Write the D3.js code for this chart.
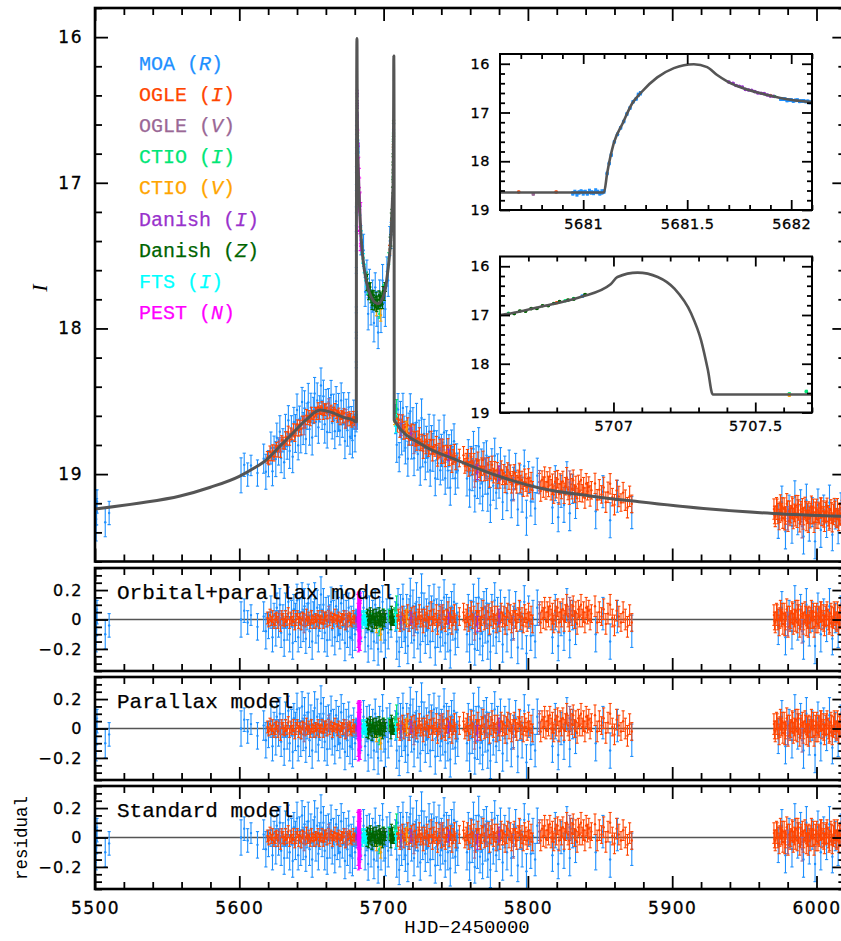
<!DOCTYPE html>
<html><head><meta charset="utf-8">
<script src="https://cdn.jsdelivr.net/npm/d3@7"></script>
<style>body{margin:0;background:#fff}svg{display:block}</style>
</head><body>
<svg id="c" width="841" height="941"></svg>
<script>
// ---------------- DATA ----------------
// best-fit model light curve (HJD-2450000, I mag)
const modelT = [5500,5530,5559,5580,5600,5610,5619,5628,5637,5646,5656,5665,5672,5679,5680.6,
 5681.10,5681.115,5681.147,5681.19,5681.236,5681.276,5681.356,5681.436,5681.532,5681.596,5681.644,
 5681.692,5681.788,5681.885,5681.997,5682.10,5682.5,5683,5684,5685,5687,5690,5693,5696,5699,5701,
 5703,5704.5,5705.5,5706.2,5706.601,5706.743,5706.884,5706.99,5707.014,5707.085,5707.156,5707.215,
 5707.274,5707.309,5707.333,5707.35,5707.7,5708,5727,5750,5780,5808,5843,5877,5926,5970,6020];
const modelMag = [19.24,19.20,19.15,19.09,19.015,18.96,18.90,18.81,18.72,18.63,18.56,18.58,18.61,18.63,18.64,
 18.64,18.25,17.63,17.22,16.81,16.60,16.28,16.09,16.01,16.07,16.23,
 16.36,16.53,16.64,16.74,16.79,16.93,17.08,17.30,17.45,17.62,17.75,17.81,17.83,17.80,17.74,
 17.60,17.45,17.28,17.10,17.00,16.83,16.63,16.37,16.22,16.13,16.22,16.46,
 16.97,17.52,18.13,18.63,18.63,18.64,18.80,18.90,19.015,19.095,19.15,19.19,19.24,19.27,19.29];

// data points: [HJD-2450000, residual (model - data, mag), error (mag)]
const moaData = [
[5500.2,-0.05,0.12],[5500.5,0.03,0.10],[5500.8,-0.11,0.11],[5501.1,-0.02,0.09],[5501.4,0.05,0.08],[5507.1,-0.10,0.10],[5509.8,-0.04,0.08],
[5601.2,0.00,0.12],[5603.4,0.06,0.08],[5605.8,-0.02,0.08],[5608.1,0.03,0.07],[5612.6,-0.05,0.09],[5616.9,0.02,0.10],[5618.4,-0.08,0.12],[5620.2,-0.04,0.09],[5621.9,0.05,0.11],[5623.0,-0.12,0.10],[5624.1,0.03,0.08],[5625.3,-0.06,0.12],[5626.0,0.08,0.10],[5627.2,-0.03,0.09],[5628.1,0.10,0.11],[5629.0,-0.09,0.10],[5630.2,0.02,0.08],[5631.1,-0.14,0.11],[5632.0,0.06,0.12],[5633.2,-0.05,0.09],[5634.0,0.12,0.10],[5634.9,-0.10,0.12],[5636.1,0.04,0.09],[5637.0,-0.16,0.11],[5637.8,0.07,0.10],[5638.9,-0.02,0.13],[5640.0,0.13,0.11],[5640.8,-0.12,0.10],[5641.7,0.05,0.09],[5642.6,-0.07,0.12],[5643.5,0.15,0.10],[5644.3,-0.04,0.11],[5645.2,0.09,0.12],[5646.1,-0.13,0.10],[5647.0,0.02,0.09],[5647.8,0.11,0.13],[5648.7,-0.08,0.11],[5649.6,0.06,0.10],[5650.5,-0.15,0.12],[5651.3,0.03,0.09],[5652.2,0.14,0.11],[5653.1,-0.06,0.10],[5654.0,0.08,0.12],[5654.8,-0.11,0.11],[5655.7,0.01,0.09],[5656.6,0.17,0.12],[5657.4,-0.03,0.10],[5658.3,0.10,0.11],[5659.2,-0.09,0.13],[5660.1,0.05,0.10],[5660.9,-0.14,0.11],[5661.8,0.07,0.09],[5662.7,-0.02,0.12],[5663.6,0.12,0.10],[5664.4,-0.07,0.11],[5665.3,0.04,0.09],[5666.2,-0.12,0.12],[5667.1,0.09,0.10],[5667.9,-0.04,0.11],[5668.8,0.02,0.13],[5669.7,-0.10,0.10],[5670.6,0.11,0.12],[5671.4,-0.05,0.09],[5672.3,0.06,0.11],[5673.2,-0.16,0.12],[5674.1,0.03,0.10],[5674.9,-0.08,0.11],[5675.8,0.08,0.10],[5676.7,-0.12,0.12],[5677.6,-0.02,0.11],[5678.4,-0.14,0.12],[5679.3,0.04,0.10],[5680.2,-0.10,0.11],
[5680.95,-0.02,0.03],[5680.96,0.01,0.03],[5680.97,-0.03,0.04],[5680.98,0.00,0.03],[5680.99,0.02,0.03],[5681.00,-0.01,0.04],[5681.01,0.01,0.03],[5681.02,-0.02,0.03],[5681.03,0.02,0.04],[5681.04,0.00,0.03],[5681.05,-0.01,0.03],[5681.06,0.03,0.04],[5681.07,0.01,0.03],[5681.08,-0.02,0.03],[5681.09,0.01,0.04],[5681.10,0.02,0.03],
[5681.115,0.00,0.02],[5681.125,0.01,0.02],[5681.135,-0.01,0.02],[5681.15,0.00,0.02],[5681.165,0.01,0.02],[5681.18,0.00,0.02],[5681.195,-0.01,0.02],[5681.21,0.01,0.02],[5681.225,0.00,0.02],[5681.24,0.01,0.02],[5681.255,-0.01,0.02],[5681.265,0.02,0.03],[5681.275,0.00,0.03],
[5681.95,-0.03,0.02],[5681.96,-0.02,0.02],[5681.97,-0.01,0.02],[5681.98,-0.03,0.02],[5681.99,-0.01,0.02],[5682.00,0.00,0.02],[5682.01,-0.02,0.02],[5682.02,0.00,0.02],[5682.03,0.01,0.02],[5682.04,-0.01,0.02],[5682.05,0.00,0.02],[5682.06,0.01,0.02],[5682.07,0.00,0.02],[5682.08,0.01,0.02],[5682.09,-0.01,0.02],[5682.10,0.01,0.02],
[5684.3,-0.05,0.10],[5686.1,0.08,0.11],[5687.2,-0.12,0.10],[5688.4,0.03,0.12],[5689.3,-0.18,0.11],[5690.2,0.06,0.10],[5691.3,-0.08,0.12],[5692.4,0.02,0.11],[5693.3,-0.15,0.13],[5694.2,0.10,0.10],[5695.3,-0.04,0.12],[5696.2,-0.20,0.11],[5697.3,0.05,0.10],[5698.2,-0.10,0.12],[5699.3,0.12,0.11],[5700.2,-0.06,0.10],[5701.2,-0.14,0.12],[5702.3,0.04,0.10],[5703.2,-0.09,0.11],[5704.3,0.07,0.10],[5705.2,-0.03,0.09],[5706.89,0.00,0.02],
[5708.3,0.02,0.10],[5709.1,-0.15,0.12],[5710.0,0.10,0.11],[5710.8,-0.22,0.10],[5711.7,0.05,0.12],[5712.5,-0.08,0.11],[5713.4,0.14,0.10],[5714.2,-0.03,0.12],[5715.1,-0.12,0.11],[5716.0,0.07,0.10],[5716.8,-0.18,0.12],[5717.7,0.03,0.11],[5718.5,0.16,0.12],[5719.4,-0.06,0.10],[5720.3,0.09,0.11],[5721.1,-0.14,0.12],[5722.0,0.01,0.10],[5722.8,0.12,0.13],[5723.7,-0.09,0.11],[5724.6,0.05,0.10],[5725.4,-0.17,0.12],[5726.3,0.18,0.13],[5727.1,-0.04,0.11],[5728.0,0.08,0.10],[5728.9,-0.11,0.12],[5729.7,0.03,0.11],[5730.6,-0.07,0.10],[5731.5,0.11,0.12],[5732.3,-0.15,0.11],[5733.2,0.06,0.10],[5734.1,-0.02,0.13],[5734.9,0.13,0.11],[5735.8,-0.19,0.12],[5736.7,0.04,0.10],[5737.5,-0.08,0.11],[5738.4,0.10,0.12],[5739.3,-0.12,0.10],[5740.1,0.02,0.11],[5741.0,-0.05,0.13],[5741.9,0.15,0.12],[5742.7,-0.16,0.11],[5743.6,0.07,0.10],[5744.5,-0.10,0.12],[5745.3,0.04,0.11],[5746.2,-0.21,0.12],[5747.1,0.09,0.10],[5748.0,-0.03,0.11],[5748.8,0.12,0.12],[5749.7,-0.13,0.11],[5750.6,0.01,0.10],[5751.4,-0.07,0.12],
[5757.8,-0.10,0.12],[5758.7,0.06,0.11],[5759.6,-0.17,0.12],[5760.5,0.03,0.10],[5761.4,-0.06,0.11],[5762.3,0.12,0.12],[5763.2,-0.20,0.11],[5764.1,0.05,0.10],[5765.0,-0.09,0.12],[5765.9,0.15,0.13],[5766.8,-0.13,0.11],[5767.7,0.02,0.12],[5768.6,-0.18,0.10],[5769.5,0.08,0.11],[5770.4,-0.04,0.12],[5771.3,0.11,0.10],[5772.2,-0.15,0.12],[5773.1,0.00,0.11],[5774.0,-0.22,0.12],[5775.0,0.06,0.11],[5776.0,-0.08,0.10],[5777.0,0.13,0.12],[5778.0,-0.12,0.11],[5779.0,0.03,0.12],[5780.0,-0.05,0.10],[5781.0,0.09,0.11],[5782.5,-0.17,0.12],[5784.0,0.04,0.11],[5785.5,-0.10,0.12],[5787.0,0.10,0.10],[5788.5,-0.14,0.12],[5790.0,-0.02,0.11],[5791.5,0.07,0.12],[5793.0,-0.19,0.11],[5794.5,0.02,0.10],[5796.0,-0.08,0.12],[5797.5,0.12,0.11],[5799.0,-0.23,0.12],[5800.5,0.05,0.11],[5802.0,-0.11,0.10],[5803.5,0.01,0.12],[5805.0,-0.15,0.11],[5806.5,0.08,0.12],
[5817.0,-0.12,0.11],[5819.0,0.05,0.12],[5821.0,-0.18,0.10],[5823.0,0.00,0.11],[5825.0,-0.09,0.12],[5827.0,0.10,0.11],[5829.0,-0.14,0.12],[5831.0,0.03,0.10],[5833.0,-0.06,0.11],[5847.0,-0.10,0.12],[5852.0,0.04,0.11],[5857.0,-0.15,0.12],[5862.0,0.02,0.11],[5872.0,-0.08,0.11],
[5973.5,-0.05,0.12],[5976.0,0.08,0.11],[5978.5,-0.12,0.12],[5981.0,0.03,0.10],[5983.0,-0.08,0.12],[5985.0,0.12,0.11],[5987.0,-0.02,0.12],[5989.0,0.06,0.11],[5991.0,-0.15,0.12],[5993.0,0.10,0.11],[5995.0,-0.06,0.12],[5997.0,0.02,0.10],[5999.0,-0.18,0.12],[6001.0,0.07,0.11],[6003.0,-0.10,0.12],[6005.0,0.04,0.10],[6007.0,-0.04,0.11],[6009.0,0.09,0.12],[6011.0,-0.13,0.11],[6013.0,0.01,0.10],[6015.0,-0.07,0.12],[6017.0,0.05,0.11],[6019.0,-0.11,0.12]
];
const ogleIData = [
[5619.5,0.01,0.04],[5620.4,-0.02,0.03],[5621.3,0.03,0.04],[5622.2,-0.01,0.03],[5623.1,0.02,0.04],[5624.0,-0.03,0.03],[5624.9,0.00,0.04],[5625.8,0.02,0.03],[5626.7,-0.02,0.04],[5627.6,0.01,0.03],[5628.5,-0.04,0.04],[5629.4,0.03,0.03],[5630.3,0.00,0.04],[5631.2,-0.02,0.03],[5632.1,0.02,0.04],[5633.0,-0.01,0.03],[5633.9,0.04,0.04],[5634.8,-0.03,0.03],[5635.7,0.01,0.04],[5636.6,-0.01,0.03],[5637.5,0.02,0.04],[5638.4,-0.04,0.03],[5639.3,0.00,0.04],[5640.2,0.03,0.03],[5641.1,-0.02,0.04],[5642.0,0.01,0.03],[5642.9,-0.03,0.04],[5643.8,0.02,0.03],[5644.7,0.00,0.04],[5645.6,-0.02,0.03],[5646.5,0.03,0.04],[5647.4,-0.01,0.03],[5648.3,0.01,0.04],[5649.2,-0.03,0.03],[5650.1,0.02,0.04],[5651.0,0.00,0.03],[5651.9,-0.02,0.04],[5652.8,0.01,0.03],[5653.7,-0.01,0.04],[5654.6,0.03,0.03],[5655.5,-0.02,0.04],[5656.4,0.00,0.03],[5657.3,0.02,0.04],[5658.2,-0.03,0.03],[5659.1,0.01,0.04],[5660.0,0.02,0.03],[5660.9,-0.01,0.04],[5661.8,0.03,0.03],[5662.7,0.00,0.04],[5663.6,0.02,0.03],[5664.5,-0.02,0.04],[5665.4,0.01,0.03],[5666.3,0.03,0.04],[5667.2,0.00,0.03],[5668.1,-0.01,0.04],[5669.0,0.02,0.03],[5669.9,-0.02,0.04],[5670.8,0.01,0.03],[5671.7,0.00,0.04],[5672.6,0.03,0.03],[5673.5,-0.03,0.04],[5674.4,0.01,0.03],[5675.3,-0.01,0.04],[5676.2,0.02,0.03],[5677.1,0.00,0.04],[5678.0,-0.02,0.03],[5678.9,0.02,0.04],[5679.8,0.00,0.03],[5680.69,0.01,0.01],[5680.87,0.01,0.01],
[5704.2,0.02,0.03],[5705.5,-0.01,0.03],[5706.80,0.00,0.01],[5707.70,0.00,0.01],
[5708.6,0.02,0.04],[5709.5,-0.01,0.05],[5710.4,0.03,0.04],[5711.3,-0.03,0.05],[5712.2,0.01,0.04],[5713.1,0.04,0.05],[5714.0,-0.02,0.05],[5714.9,0.02,0.04],[5715.8,0.00,0.05],[5716.7,0.05,0.05],[5717.6,-0.04,0.04],[5718.5,0.01,0.05],[5719.4,0.03,0.05],[5720.3,-0.02,0.04],[5721.2,0.04,0.05],[5722.1,0.00,0.05],[5723.0,-0.03,0.04],[5723.9,0.02,0.05],[5724.8,0.05,0.05],[5725.7,-0.01,0.04],[5726.6,0.02,0.05],[5727.5,-0.04,0.05],[5728.4,0.03,0.04],[5729.3,0.00,0.05],[5730.2,0.04,0.05],[5731.1,-0.02,0.04],[5732.0,0.01,0.05],[5732.9,0.06,0.06],[5733.8,-0.03,0.05],[5734.7,0.02,0.05],[5735.6,0.00,0.04],[5736.5,0.04,0.06],[5737.4,-0.05,0.05],[5738.3,0.01,0.05],[5739.2,0.03,0.06],[5740.1,-0.02,0.05],[5741.0,0.05,0.05],[5741.9,0.00,0.06],[5742.8,-0.03,0.05],[5743.7,0.02,0.05],[5744.6,0.06,0.06],[5745.5,-0.01,0.05],[5746.4,0.03,0.05],[5747.3,-0.04,0.06],[5748.2,0.01,0.05],[5749.1,0.04,0.06],[5750.0,-0.02,0.05],[5752.5,0.02,0.06],[5755.4,0.05,0.06],[5756.3,-0.02,0.05],[5757.2,0.01,0.06],[5758.1,0.04,0.06],[5759.0,-0.03,0.05],[5759.9,0.02,0.06],[5760.8,0.06,0.06],[5761.7,-0.01,0.05],[5762.6,0.03,0.06],[5763.5,-0.04,0.06],[5764.4,0.01,0.05],[5765.3,0.05,0.06],[5766.2,0.00,0.06],[5767.1,-0.03,0.05],[5768.0,0.02,0.06],[5768.9,0.07,0.06],[5769.8,-0.02,0.05],[5770.7,0.03,0.06],[5771.6,0.00,0.06],[5772.5,0.05,0.05],[5773.4,-0.04,0.06],[5774.3,0.02,0.06],[5775.2,0.06,0.06],[5776.1,-0.01,0.05],[5777.0,0.03,0.06],[5777.9,-0.03,0.06],[5778.8,0.04,0.05],[5779.7,0.01,0.06],[5780.6,-0.02,0.06],[5781.5,0.05,0.06],[5782.4,0.00,0.05],[5783.3,0.03,0.06],[5784.2,-0.04,0.06],[5785.1,0.02,0.06],[5786.0,0.06,0.05],[5786.9,-0.01,0.06],[5787.8,0.04,0.06],[5788.7,-0.03,0.06],[5789.6,0.01,0.05],[5790.5,0.05,0.06],[5791.4,0.00,0.06],[5792.3,-0.02,0.06],[5793.2,0.03,0.05],[5794.1,0.07,0.06],[5795.0,-0.01,0.06],[5795.9,0.02,0.06],[5796.8,-0.04,0.05],[5797.7,0.04,0.06],[5798.6,0.01,0.06],[5799.5,-0.02,0.06],[5800.4,0.05,0.06],[5801.3,0.00,0.05],[5802.2,0.03,0.06],[5803.1,-0.03,0.06],
[5808.0,0.04,0.06],[5808.9,-0.02,0.07],[5809.8,0.06,0.06],[5810.7,0.01,0.07],[5811.6,0.08,0.07],[5812.5,-0.01,0.06],[5813.4,0.05,0.07],[5814.3,0.02,0.07],[5815.2,0.09,0.06],[5816.1,0.00,0.07],[5817.0,0.04,0.07],[5817.9,-0.03,0.06],[5818.8,0.06,0.07],[5819.7,0.02,0.07],[5820.6,0.08,0.06],[5821.5,-0.02,0.07],[5822.4,0.05,0.07],[5823.3,0.01,0.06],[5824.2,0.07,0.07],[5825.1,-0.01,0.07],[5826.0,0.04,0.06],[5826.9,0.10,0.07],[5827.8,0.02,0.07],[5828.7,-0.02,0.06],[5829.6,0.06,0.07],[5830.5,0.03,0.07],[5831.4,0.09,0.07],[5832.3,0.00,0.06],[5833.2,0.05,0.07],[5834.1,-0.03,0.07],[5835.0,0.07,0.06],[5835.9,0.02,0.07],[5836.8,0.10,0.07],[5837.7,0.01,0.06],[5838.6,0.05,0.07],[5839.5,-0.02,0.07],[5840.4,0.08,0.07],[5841.3,0.03,0.06],[5842.2,0.06,0.07],[5843.1,0.00,0.07],[5844.0,0.04,0.06],[5846.5,0.09,0.07],[5848.0,-0.02,0.07],[5849.5,0.05,0.07],[5851.0,0.02,0.06],[5852.5,0.07,0.07],[5854.0,-0.03,0.07],[5855.5,0.04,0.07],[5857.0,0.10,0.07],[5858.5,0.01,0.06],[5860.0,-0.04,0.07],[5861.5,0.06,0.07],[5863.0,0.02,0.07],[5864.5,-0.02,0.06],[5866.0,0.05,0.07],[5867.5,0.00,0.07],[5869.0,-0.05,0.07],[5870.5,0.03,0.07],[5872.0,-0.02,0.06],
[5970.5,0.03,0.07],[5971.4,-0.02,0.07],[5972.3,0.05,0.06],[5973.2,0.00,0.07],[5974.1,-0.04,0.07],[5975.0,0.06,0.07],[5975.8,0.01,0.06],[5976.7,-0.03,0.07],[5977.6,0.04,0.07],[5978.5,-0.01,0.06],[5979.4,0.07,0.07],[5980.3,-0.05,0.07],[5981.2,0.02,0.07],[5982.1,0.00,0.06],[5983.0,0.05,0.07],[5983.9,-0.03,0.07],[5984.8,0.01,0.06],[5985.7,0.06,0.07],[5986.6,-0.02,0.07],[5987.5,0.03,0.07],[5988.4,-0.06,0.06],[5989.3,0.02,0.07],[5990.2,0.04,0.07],[5991.1,-0.01,0.06],[5992.0,0.05,0.07],[5992.9,-0.04,0.07],[5993.8,0.01,0.07],[5994.7,0.03,0.06],[5995.6,-0.02,0.07],[5996.5,0.06,0.07],[5997.4,0.00,0.06],[5998.3,-0.05,0.07],[5999.2,0.02,0.07],[6000.1,0.04,0.07],[6001.0,-0.03,0.06],[6001.9,0.01,0.07],[6002.8,0.05,0.07],[6003.7,-0.01,0.06],[6004.6,0.03,0.07],[6005.5,-0.04,0.07],[6006.4,0.02,0.07],[6007.3,0.06,0.06],[6008.2,0.00,0.07],[6009.1,-0.02,0.07],[6010.0,0.04,0.07],[6010.9,-0.05,0.06],[6011.8,0.01,0.07],[6012.7,0.03,0.07],[6013.6,-0.01,0.06],[6014.5,0.05,0.07],[6015.4,-0.03,0.07],[6016.3,0.02,0.07],[6017.2,0.00,0.06],[6018.1,0.04,0.07],[6019.0,-0.02,0.07],
[5970.9,-0.01,0.06],[5972.7,0.03,0.07],[5974.6,0.01,0.07],[5976.2,0.05,0.06],[5978.0,-0.04,0.07],[5979.9,0.02,0.07],[5981.7,-0.02,0.06],[5983.5,0.04,0.07],[5985.3,-0.01,0.07],[5987.1,0.07,0.06],[5988.9,0.00,0.07],[5990.7,-0.03,0.07],[5992.5,0.03,0.06],[5994.3,-0.05,0.07],[5996.1,0.01,0.07],[5997.9,0.05,0.06],[5999.7,-0.02,0.07],[6001.5,0.02,0.07],[6003.3,0.06,0.06],[6005.1,-0.01,0.07],[6006.9,0.03,0.07],[6008.7,-0.04,0.06],[6010.5,0.02,0.07],[6012.3,0.05,0.07],[6014.1,-0.02,0.06],[6015.9,0.01,0.07],[6017.7,0.04,0.07],[6019.5,-0.03,0.06]
];
const ogleVData = [[5628,0.01,0.05],[5645,-0.03,0.06],[5662,0.04,0.05],[5674,0.00,0.06],[5680.76,-0.03,0.02],[5712,0.02,0.06],[5721,-0.04,0.07],[5740,0.03,0.07],[5763,-0.05,0.09],[5771,0.02,0.07],[5790,-0.06,0.08],[5808,0.04,0.08],[5829,0.07,0.08],[5980,-0.03,0.08],[5990,-0.08,0.08]];
const ctioIData = [[5681.92,0.00,0.01],[5686,0.02,0.03],[5689,-0.03,0.03],[5692,0.01,0.03],[5697,-0.08,0.03],[5700,0.04,0.03],[5703.5,0.03,0.04],[5705.5,0.00,0.03],[5706.63,0.00,0.01],[5706.83,0.00,0.01],[5706.86,0.00,0.01],[5707.62,0.01,0.02],[5707.68,0.06,0.02],[5709,0.10,0.06],[5712,-0.02,0.04]];
const ctioVData = [[5681.90,0.00,0.01],[5695,-0.05,0.04],[5698,-0.10,0.04],[5707.62,-0.01,0.02],[5716,0.02,0.05]];
const danishIData = [[5681.70,0.00,0.01],[5681.72,0.01,0.01],[5681.735,-0.01,0.01],[5681.75,0.00,0.01],[5681.765,0.01,0.01],[5681.78,-0.01,0.01],[5681.795,0.00,0.01],[5681.81,0.01,0.01],[5681.825,0.00,0.01],[5681.84,-0.01,0.01],[5681.855,0.00,0.01],[5681.87,0.01,0.01],[5681.885,0.00,0.01],[5681.90,-0.01,0.01],[5681.915,0.00,0.01],
 [5690,0.00,0.03],[5700,0.02,0.03],[5712,-0.02,0.04],[5719,0.01,0.04],[5745,0.01,0.04],[5765,-0.03,0.05],[5780,0.02,0.05]];
const danishZData = [[5688.0,0.02,0.03],[5688.4,-0.03,0.03],[5688.8,0.04,0.03],[5689.2,0.00,0.02],[5689.6,-0.04,0.03],[5690.0,0.03,0.03],[5690.4,-0.01,0.02],[5690.8,0.05,0.03],[5691.2,-0.02,0.03],[5691.6,0.01,0.02],[5692.0,-0.05,0.03],[5692.4,0.03,0.03],[5692.8,0.00,0.02],[5693.2,0.04,0.03],[5693.6,-0.03,0.03],[5694.0,0.01,0.02],[5694.4,-0.01,0.03],[5694.8,0.04,0.03],[5695.2,-0.04,0.02],[5695.6,0.02,0.03],[5696.0,0.00,0.03],[5696.4,-0.02,0.02],[5696.8,0.05,0.03],[5697.2,0.01,0.03],[5697.6,-0.03,0.02],[5698.0,0.03,0.03],[5698.4,-0.01,0.03],[5698.8,0.02,0.02],[5699.2,-0.04,0.03],[5699.6,0.04,0.03],[5700.0,0.00,0.02],[5700.4,-0.02,0.03],[5700.8,0.03,0.03],[5701.2,0.01,0.03],
 [5704.6,0.02,0.04],[5705.0,-0.03,0.04],[5705.4,0.05,0.04],[5705.8,-0.01,0.03],[5706.2,0.03,0.04],
 [5706.63,-0.02,0.01],[5706.65,-0.03,0.01],[5706.67,0.00,0.01],[5706.69,-0.03,0.01],[5706.71,0.00,0.01],[5706.73,-0.02,0.01],[5706.75,0.01,0.01],[5706.77,-0.02,0.01],[5706.79,0.00,0.01],[5706.81,0.01,0.01],[5706.84,0.00,0.01],[5706.86,-0.01,0.01],[5706.90,0.01,0.01]];
const ftsData = [[5683.6,0.02,0.03],[5684.1,-0.02,0.03],[5684.6,0.03,0.03],[5685.0,0.00,0.03],[5685.5,-0.03,0.03],[5686.0,0.02,0.03],[5686.5,-0.01,0.03],[5687.0,0.03,0.03],[5687.5,0.00,0.03],[5688.0,-0.02,0.03],[5708.2,0.01,0.04],[5708.6,-0.03,0.04]];
const pestData = [[5682.15,0.05,0.12],[5682.3,-0.04,0.15],[5682.45,0.08,0.10],[5682.6,-0.08,0.14],[5682.75,0.02,0.16],[5682.9,-0.03,0.12],[5683.05,0.06,0.13],[5683.2,-0.06,0.15],[5683.35,0.01,0.18],[5683.5,-0.02,0.14],[5683.65,0.04,0.12],[5683.8,-0.05,0.16],[5683.95,0.00,0.13],[5684.1,0.03,0.15]];

const datasets = [
  {label:"MOA", band:"R", color:"#1e90ff", data:moaData},
  {label:"OGLE", band:"I", color:"#ff4500", data:ogleIData},
  {label:"OGLE", band:"V", color:"#9a6896", data:ogleVData},
  {label:"CTIO", band:"I", color:"#00e676", data:ctioIData},
  {label:"CTIO", band:"V", color:"#ffa500", data:ctioVData},
  {label:"Danish", band:"I", color:"#9932cc", data:danishIData},
  {label:"Danish", band:"Z", color:"#006400", data:danishZData},
  {label:"FTS", band:"I", color:"#00ffff", data:ftsData},
  {label:"PEST", band:"N", color:"#ff00ff", data:pestData}
];
const residualPanels = ["Orbital+parallax model","Parallax model","Standard model"];

const xMajor = [5500,5600,5700,5800,5900,6000];
const xMinor = [5520,5540,5560,5580,5620,5640,5660,5680,5720,5740,5760,5780,5820,5840,5860,5880,5920,5940,5960,5980,6020];
const yMajor = [16,17,18,19];
const yMinor = [15.8,16.2,16.4,16.6,16.8,17.2,17.4,17.6,17.8,18.2,18.4,18.6,18.8,19.2,19.4,19.6];
const rMajor = [-0.2,0,0.2];
const rMinor = [-0.35,-0.3,-0.25,-0.15,-0.1,-0.05,0.05,0.1,0.15,0.25,0.3,0.35];
const in1Major = [5681,5681.5,5682];
const in1Minor = [5680.7,5680.8,5680.9,5681.1,5681.2,5681.3,5681.4,5681.6,5681.7,5681.8,5681.9,5682.1];
const in2Major = [5707,5707.5];
const in2Minor = [5706.7,5706.8,5706.9,5707.1,5707.2,5707.3,5707.4,5707.6,5707.7];
const inYMajor = [16,17,18,19];
const inYMinor = [16.2,16.4,16.6,16.8,17.2,17.4,17.6,17.8,18.2,18.4,18.6,18.8];

// ---------------- DRAWING ----------------
const svg = d3.select("#c");
const TICKFONT = "DejaVu Sans, sans-serif";
const MONO = "Liberation Mono, Courier New, monospace";
const LINE = "#555";

function modelAt(t){
  const i = d3.bisectRight(modelT, t);
  if (i <= 0) return modelMag[0];
  if (i >= modelT.length) return modelMag[modelMag.length-1];
  const t0 = modelT[i-1], t1 = modelT[i];
  return modelMag[i-1] + (modelMag[i]-modelMag[i-1])*(t-t0)/(t1-t0);
}
const modelPts = modelT.map((t,i)=>[t, modelMag[i]]);

const x = d3.scaleLinear().domain([5500,6020]).range([95, 95+520*1.443]);
const yMain = d3.scaleLinear().domain([15.8,19.6]).range([8,561.5]);

let clipId = 0;
function clip(x0,y0,w,h){
  const id = "clip"+(clipId++);
  svg.append("clipPath").attr("id",id).append("rect").attr("x",x0).attr("y",y0).attr("width",w).attr("height",h);
  return "url(#"+id+")";
}

function drawPoints(g, xs, ys, getY, capW, dotR, sw){
  datasets.forEach(ds=>{
    const dg = g.append("g").attr("stroke",ds.color).attr("fill",ds.color);
    const pts = ds.data.filter(d=>d[0]>=xs.domain()[0]-1 && d[0]<=xs.domain()[1]+1);
    pts.forEach(d=>{
      const px = xs(d[0]);
      const [yc, ylo, yhi] = getY(d);
      dg.append("line").attr("x1",px).attr("x2",px).attr("y1",ylo).attr("y2",yhi).attr("stroke-width",sw);
      if (capW>0){
        dg.append("line").attr("x1",px-capW).attr("x2",px+capW).attr("y1",ylo).attr("y2",ylo).attr("stroke-width",sw);
        dg.append("line").attr("x1",px-capW).attr("x2",px+capW).attr("y1",yhi).attr("y2",yhi).attr("stroke-width",sw);
      }
      dg.append("circle").attr("cx",px).attr("cy",yc).attr("r",dotR).attr("stroke","none");
    });
  });
}

function styleAxis(g, fs, ls){
  g.select(".domain").remove();
  g.selectAll(".tick line").attr("stroke","#000").attr("stroke-width",1.8);
  g.selectAll(".tick text").attr("font-family",TICKFONT).attr("font-size",fs).attr("fill","#000")
    .attr("stroke","#000").attr("stroke-width",0.3).style("letter-spacing",ls+"px");
}
// draw inward ticks on 4 sides via d3 axes
function frameAxes(xs, ys, x0, x1, y0, y1, o){
  const g = svg.append("g");
  const mk = (axis, tr, major, minor, labels, fs, pad) => {
    const a = g.append("g").attr("transform",tr).call(axis(major).tickSize(-o.maj).tickPadding(pad).tickFormat(labels));
    styleAxis(a, fs, o.ls);
    const b = g.append("g").attr("transform",tr).call(axis(minor).tickSize(-o.min).tickFormat(""));
    styleAxis(b, fs, o.ls);
    return a;
  };
  const fmtNone = ()=>"";
  mk(v=>d3.axisBottom(xs).tickValues(v), `translate(0,${y1})`, o.xMaj, o.xMin, o.xLabels?o.xFmt:fmtNone, o.xfs, o.xpad);
  mk(v=>d3.axisTop(xs).tickValues(v), `translate(0,${y0})`, o.xMaj, o.xMin, fmtNone, o.xfs, 3);
  mk(v=>d3.axisLeft(ys).tickValues(v), `translate(${x0},0)`, o.yMaj, o.yMin, o.yFmt, o.yfs, o.ypad);
  mk(v=>d3.axisRight(ys).tickValues(v), `translate(${x1},0)`, o.yMaj, o.yMin, fmtNone, o.yfs, 3);
  g.append("rect").attr("x",x0).attr("y",y0).attr("width",x1-x0).attr("height",y1-y0)
    .attr("fill","none").attr("stroke","#000").attr("stroke-width",o.fw);
}

// ---------- main panel ----------
const mainG = svg.append("g").attr("clip-path", clip(95,8,760,553.5));
drawPoints(mainG, x, yMain, d=>{const m=modelAt(d[0])-d[1]; return [yMain(m), yMain(m-d[2]), yMain(m+d[2])];}, 1.6, 1.2, 1.1);
mainG.append("path").datum(modelPts)
  .attr("d", d3.line().x(d=>x(d[0])).y(d=>yMain(d[1])).curve(d3.curveMonotoneX))
  .attr("fill","none").attr("stroke",LINE).attr("stroke-width",3).attr("stroke-linejoin","round");

frameAxes(x, yMain, 95, x(6020), 8, 561.5, {maj:13,min:7,fw:2.6,ls:1.5,
  xMaj:xMajor,xMin:xMinor,xLabels:false,xfs:17,xpad:13,
  yMaj:yMajor,yMin:yMinor,yFmt:d3.format("d"),yfs:17,ypad:12});

// legend
const leg = svg.append("g").attr("font-family",MONO).attr("font-size",20);
datasets.forEach((ds,i)=>{
  const t = leg.append("text").attr("x",139).attr("y",70+i*31.1).attr("fill",ds.color)
    .attr("stroke",ds.color).attr("stroke-width",0.25);
  t.append("tspan").text(ds.label+" (");
  t.append("tspan").attr("font-style","italic").text(ds.band);
  t.append("tspan").text(")");
});
// y label
svg.append("text").attr("transform","translate(47,288) rotate(-90)").attr("text-anchor","middle")
  .attr("font-family","Liberation Serif, serif").attr("font-style","italic").attr("font-size",22).text("I");

// ---------- insets ----------
function inset(domain, y0, xMaj, xMin, xFmt){
  const xs = d3.scaleLinear().domain(domain).range([500,812]);
  const ys = d3.scaleLinear().domain([15.8,19]).range([y0, y0+156]);
  svg.append("rect").attr("x",500).attr("y",y0).attr("width",312).attr("height",156).attr("fill","#fff");
  const g = svg.append("g").attr("clip-path", clip(500,y0,312,156));
  drawPoints(g, xs, ys, d=>{const m=modelAt(d[0])-d[1]; return [ys(m), ys(m-d[2]), ys(m+d[2])];}, 1.5, 1.8, 1.6);
  g.append("path").datum(modelPts.filter(p=>p[0]>=domain[0]-2 && p[0]<=domain[1]+2))
    .attr("d", d3.line().x(d=>xs(d[0])).y(d=>ys(d[1])).curve(d3.curveMonotoneX))
    .attr("fill","none").attr("stroke",LINE).attr("stroke-width",2.6);
  frameAxes(xs, ys, 500, 812, y0, y0+156, {maj:10,min:5,fw:2,ls:0.5,
    xMaj:xMaj,xMin:xMin,xLabels:true,xFmt:xFmt,xfs:14.5,xpad:8.5,
    yMaj:inYMajor,yMin:inYMinor,yFmt:d3.format("d"),yfs:14.5,ypad:10});
}
inset([5680.6,5682.1], 54, in1Major, in1Minor, d=>d===5681.5?"5681.5":d3.format("d")(d));
inset([5706.6,5707.7], 256.5, in2Major, in2Minor, d=>d===5707.5?"5707.5":d3.format("d")(d));

// ---------- residual panels ----------
const panelTop = [568,677,786];
const panelH = 103;
residualPanels.forEach((name,k)=>{
  const y0 = panelTop[k], y1 = y0+panelH;
  const ys = d3.scaleLinear().domain([-0.35,0.35]).range([y1,y0]);
  const g = svg.append("g").attr("clip-path", clip(95,y0,760,panelH));
  g.append("line").attr("x1",x(5500)).attr("x2",x(6020)).attr("y1",ys(0)).attr("y2",ys(0))
    .attr("stroke",LINE).attr("stroke-width",1.4);
  drawPoints(g, x, ys, d=>[ys(d[1]), ys(d[1]-d[2]), ys(d[1]+d[2])], 1.6, 1.2, 1.1);
  svg.append("text").attr("x",117).attr("y",y0+31).attr("font-family",MONO).attr("font-size",21)
    .attr("fill","#000").attr("stroke","#000").attr("stroke-width",0.25).text(name);
  frameAxes(x, ys, 95, x(6020), y0, y1, {maj:13,min:7,fw:2.6,ls:1.5,
    xMaj:xMajor,xMin:xMinor,xLabels:k===2,xFmt:d3.format("d"),xfs:17,xpad:13,
    yMaj:rMajor,yMin:rMinor,yFmt:d=>d===0?"0":(d<0?"\u2212":"")+Math.abs(d).toFixed(1),yfs:16,ypad:12});
});
svg.append("text").attr("transform","translate(27,838) rotate(-90)").attr("text-anchor","middle")
  .attr("font-family",MONO).attr("font-size",17.5).attr("fill","#000").text("residual");
svg.append("text").attr("x",467).attr("y",933).attr("text-anchor","middle")
  .attr("font-family",MONO).attr("font-size",19).attr("fill","#000").text("HJD\u22122450000");
</script>
</body></html>
